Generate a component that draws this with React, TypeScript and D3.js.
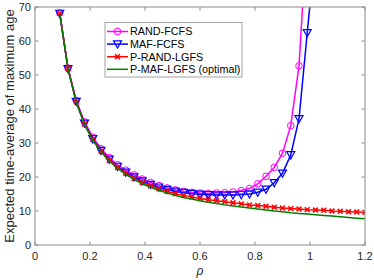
import * as d3 from "d3";

const RHO = [0.09, 0.12, 0.15, 0.18, 0.21, 0.24, 0.27, 0.3, 0.33, 0.36, 0.39, 0.42, 0.45, 0.48, 0.51, 0.54, 0.57, 0.6, 0.63, 0.66, 0.69, 0.72, 0.75, 0.78, 0.81, 0.84, 0.87, 0.9, 0.93, 0.96, 0.99, 1.02, 1.05, 1.08, 1.11, 1.14, 1.17, 1.2];

const RAND_FCFS = [68.3, 52.0, 42.5, 36.2, 31.7, 28.3, 25.7, 23.6, 22.0, 20.6, 19.4, 18.4, 17.5, 16.8, 16.2, 15.8, 15.5, 15.3, 15.2, 15.3, 15.4, 15.6, 16.0, 16.6, 18.0, 20.2, 22.8, 27.0, 35.1, 52.7, 93];
const MAF_FCFS = [68.1, 51.8, 42.2, 35.8, 31.2, 27.8, 25.2, 23.1, 21.4, 20.0, 18.8, 17.8, 17.0, 16.3, 15.8, 15.4, 15.1, 14.9, 14.8, 14.7, 14.7, 14.7, 14.8, 15.0, 15.5, 16.4, 18.3, 21.1, 26.5, 37.1, 62.4, 88];
const P_RAND_LGFS = [68.2, 51.9, 42.1, 35.6, 31.0, 27.6, 24.9, 22.8, 21.1, 19.6, 18.4, 17.4, 16.5, 15.8, 15.1, 14.6, 14.1, 13.7, 13.3, 13.0, 12.7, 12.4, 12.1, 11.8, 11.6, 11.4, 11.1, 10.9, 10.7, 10.6, 10.4, 10.3, 10.2, 10.0, 9.9, 9.8, 9.7, 9.6];
const P_MAF_LGFS = [68.0, 51.7, 41.9, 35.4, 30.8, 27.4, 24.7, 22.5, 20.8, 19.3, 18.0, 17.0, 16.1, 15.3, 14.6, 14.0, 13.5, 13.0, 12.6, 12.2, 11.8, 11.5, 11.2, 10.9, 10.6, 10.3, 10.0, 9.8, 9.5, 9.3, 9.1, 8.9, 8.7, 8.5, 8.3, 8.1, 7.9, 7.7];

const X_TICKS = [0, 0.2, 0.4, 0.6, 0.8, 1, 1.2];
const Y_TICKS = [0, 10, 20, 30, 40, 50, 60, 70];

const SERIES = [
  { name: "RAND-FCFS", values: RAND_FCFS, color: "#ff00ff", marker: "circle" },
  { name: "MAF-FCFS", values: MAF_FCFS, color: "#0000ff", marker: "tri" },
  { name: "P-RAND-LGFS", values: P_RAND_LGFS, color: "#ff0000", marker: "x" },
  { name: "P-MAF-LGFS (optimal)", values: P_MAF_LGFS, color: "#008000", marker: "none" },
];

const W = 374, H = 280;
const M = { left: 35, right: 9, top: 7, bottom: 35 };
const FONT = "'Liberation Sans', Arial, sans-serif";

function Marker({ kind, x, y, color }: { kind: string; x: number; y: number; color: string }) {
  if (kind === "circle") return <circle cx={x} cy={y} r={3.3} fill="none" stroke={color} strokeWidth={1} />;
  if (kind === "tri") {
    const s = 4;
    return <path d={`M${x - s},${y - s * 0.8}L${x + s},${y - s * 0.8}L${x},${y + s}Z`} fill="none" stroke={color} strokeWidth={1.2} />;
  }
  if (kind === "x") {
    const s = 2.4;
    return <path d={`M${x - s},${y - s}L${x + s},${y + s}M${x - s},${y + s}L${x + s},${y - s}`} stroke={color} strokeWidth={1.6} />;
  }
  return null;
}

export default function App() {
  const x = d3.scaleLinear().domain([0, 1.2]).range([M.left, W - M.right]);
  const y = d3.scaleLinear().domain([0, 70]).range([H - M.bottom, M.top]);
  const line = d3.line<[number, number]>().x(d => x(d[0])).y(d => y(d[1]));
  const [x0, x1] = x.range();
  const [y0, y1] = y.range();
  const axisColor = "#8c8c8c";
  const tick = 3.5;

  return (
    <svg width={W} height={H} style={{ position: "absolute", left: 0, top: 0, background: "#fff" }} fontFamily={FONT}>
      <defs>
        <clipPath id="plotclip"><rect x={x0} y={y1} width={x1 - x0} height={y0 - y1} /></clipPath>
      </defs>
      <rect width={W} height={H} fill="#fff" />
      {/* lines */}
      <g clipPath="url(#plotclip)">
        {SERIES.map(s => {
          const pts = s.values.map((v, i) => [RHO[i], v] as [number, number]);
          return (
            <g key={s.name}>
              <path d={line(pts) || ""} fill="none" stroke={s.color} strokeWidth={1.5} />
              {pts.filter(p => p[1] <= 70).map((p, i) => (
                <Marker key={i} kind={s.marker} x={x(p[0])} y={y(p[1])} color={s.color} />
              ))}
            </g>
          );
        })}
      </g>
      {/* frame + ticks */}
      <rect x={x0} y={y1} width={x1 - x0} height={y0 - y1} fill="none" stroke={axisColor} strokeWidth={1} />
      {X_TICKS.map(t => (
        <g key={"x" + t}>
          <line x1={x(t)} x2={x(t)} y1={y0} y2={y0 - tick} stroke={axisColor} />
          <line x1={x(t)} x2={x(t)} y1={y1} y2={y1 + tick} stroke={axisColor} />
          <text x={x(t)} y={y0 + 15} textAnchor="middle" fontSize={11} fill="#262626">{t}</text>
        </g>
      ))}
      {Y_TICKS.map(t => (
        <g key={"y" + t}>
          <line x1={x0} x2={x0 + tick} y1={y(t)} y2={y(t)} stroke={axisColor} />
          <line x1={x1} x2={x1 - tick} y1={y(t)} y2={y(t)} stroke={axisColor} />
          <text x={x0 - 4} y={y(t) + 4} textAnchor="end" fontSize={11} fill="#262626">{t}</text>
        </g>
      ))}
      <text x={(x0 + x1) / 2} y={H - 5} textAnchor="middle" fontSize={12} fontStyle="italic" fill="#262626">ρ</text>
      <text transform={`translate(14,${(y0 + y1) / 2}) rotate(-90)`} textAnchor="middle" fontSize={13} fill="#262626">
        Expected time-average of maximum age
      </text>
      {/* legend */}
      <g>
        <rect x={105} y={22.5} width={137} height={54.5} fill="#fff" stroke={axisColor} strokeWidth={0.8} />
        {SERIES.map((s, i) => {
          const ly = 31.5 + i * 12.6;
          return (
            <g key={s.name}>
              <line x1={107} x2={128} y1={ly} y2={ly} stroke={s.color} strokeWidth={1.5} />
              <Marker kind={s.marker} x={117.5} y={ly} color={s.color} />
              <text x={130} y={ly + 3.8} fontSize={10.8} fill="#000">{s.name}</text>
            </g>
          );
        })}
      </g>
    </svg>
  );
}
